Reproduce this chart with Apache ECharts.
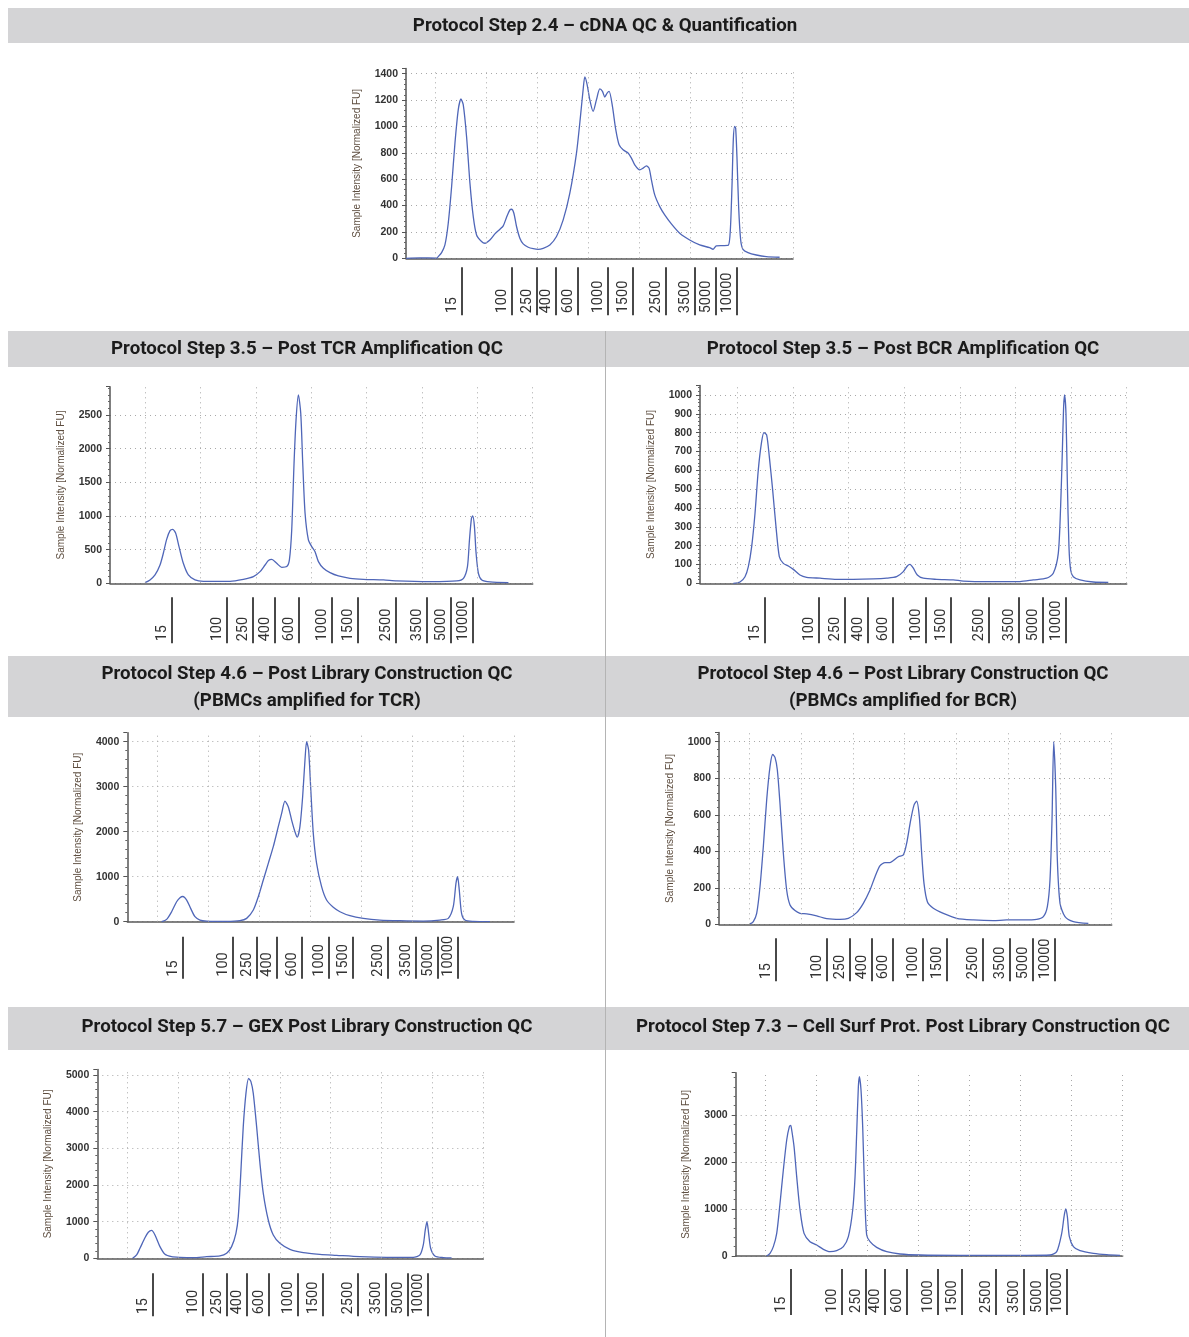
<!DOCTYPE html>
<html>
<head>
<meta charset="utf-8">
<title>10x QC electropherograms</title>
<script src="https://cdn.jsdelivr.net/npm/echarts@6/dist/echarts.min.js"></script>
<style>
  html, body { margin: 0; padding: 0; background: #fff; }
  #main { width: 1189px; height: 1337px; }
</style>
</head>
<body>
<div id="main"></div>
<script>
// ladder sizes (bp) printed under every trace
const ladderSizes = ['15', '100', '250', '400', '600', '1000', '1500', '2500', '3500', '5000', '10000'];
// migration time (s) of the vertical dotted grid
const gridTimes = [20, 30, 40, 50, 60, 70, 80, 90];

// Step 2.4 - cDNA QC
const cdnaTime = [14.34, 17.0, 20.33, 20.65, 21.30, 21.95, 22.60, 23.26, 23.91, 24.56, 25.08, 25.53, 26.18, 26.84, 27.49, 28.14, 29.11, 29.77, 30.74, 31.72, 32.70, 33.35, 34.00, 34.65, 34.97, 35.43, 35.95, 36.60, 37.25, 38.23, 39.21, 40.18, 41.16, 42.46, 43.76, 45.07, 46.37, 47.67, 48.45, 48.97, 49.30, 49.75, 50.27, 50.92, 51.58, 52.23, 52.75, 53.20, 53.66, 54.05, 54.70, 55.35, 56.00, 56.78, 57.76, 58.41, 59.06, 60.04, 60.69, 61.34, 61.86, 62.32, 62.97, 63.95, 64.92, 66.22, 67.85, 69.80, 71.76, 73.71, 74.36, 75.01, 76.32, 77.36, 77.75, 78.07, 78.33, 78.59, 78.79, 79.04, 79.37, 79.77, 80.22, 81.20, 82.83, 84.78, 87.38];
const cdnaFU = [0, 3, 2, 13, 43, 101, 266, 544, 873, 1127, 1208, 1165, 924, 570, 316, 177, 127, 114, 139, 185, 220, 246, 311, 367, 372, 342, 241, 152, 109, 84, 73, 68, 76, 101, 165, 291, 494, 798, 1076, 1279, 1375, 1317, 1203, 1114, 1203, 1284, 1266, 1223, 1253, 1266, 1152, 975, 861, 823, 798, 760, 709, 671, 684, 701, 684, 595, 481, 392, 329, 261, 190, 139, 101, 81, 68, 94, 96, 99, 215, 544, 899, 1000, 987, 772, 392, 139, 68, 43, 25, 13, 8];
const cdnaLadder = [25.2, 35.1, 39.9, 43.6, 48.0, 53.9, 58.7, 65.2, 70.8, 75.0, 79.0];

// Step 3.5 - TCR amplification
const tcrAmpTime = [20.00, 20.90, 21.81, 22.71, 23.31, 23.91, 24.52, 25.00, 25.54, 26.14, 26.92, 27.83, 29.03, 30.54, 32.94, 35.35, 37.76, 39.57, 40.77, 41.67, 42.28, 42.88, 43.78, 44.68, 45.59, 46.07, 46.49, 46.91, 47.27, 47.69, 48.12, 48.48, 48.90, 49.50, 50.10, 50.70, 51.31, 52.21, 53.41, 54.92, 57.03, 59.43, 63.05, 65.45, 71.48, 76.29, 77.50, 78.22, 78.58, 78.94, 79.18, 79.48, 79.78, 80.20, 80.81, 82.31, 85.62];
const tcrAmpFU = [10, 50, 124, 272, 446, 653, 782, 800, 743, 545, 297, 124, 50, 30, 30, 30, 59, 99, 173, 272, 337, 355, 297, 238, 248, 347, 792, 1782, 2426, 2800, 2525, 1782, 1040, 644, 545, 470, 322, 223, 158, 109, 74, 59, 50, 35, 25, 35, 74, 248, 644, 965, 1000, 842, 446, 149, 50, 20, 10];
const tcrAmpLadder = [24.82, 34.75, 39.45, 43.48, 47.87, 53.71, 58.53, 65.33, 70.87, 75.21, 79.30];

// Step 3.5 - BCR amplification
const bcrAmpTime = [19.28, 20.48, 21.38, 21.98, 22.58, 23.18, 23.77, 24.37, 24.79, 25.27, 25.75, 26.35, 26.95, 27.55, 28.27, 29.17, 30.07, 31.26, 32.46, 34.86, 37.86, 40.85, 44.45, 46.84, 48.64, 49.84, 50.56, 51.04, 51.64, 52.36, 53.43, 55.83, 58.83, 60.62, 64.82, 70.81, 73.21, 75.60, 76.80, 77.70, 78.12, 78.42, 78.66, 78.84, 79.08, 79.32, 79.62, 79.92, 80.40, 81.60, 83.99, 86.69];
const bcrAmpFU = [0, 7, 35, 88, 195, 372, 602, 752, 800, 788, 673, 496, 301, 142, 106, 92, 74, 44, 32, 27, 21, 21, 23, 27, 35, 62, 92, 100, 80, 44, 27, 21, 18, 12, 9, 9, 18, 27, 53, 159, 407, 690, 938, 1000, 903, 549, 195, 71, 35, 18, 7, 5];
const bcrAmpLadder = [24.97, 34.74, 39.35, 43.55, 48.04, 53.91, 58.41, 65.30, 70.69, 75.00, 79.08];

// Step 4.6 - library, PBMCs amplified for TCR
const tcrLibTime = [20.85, 21.83, 22.81, 23.79, 24.45, 25.00, 25.76, 26.54, 27.39, 28.37, 29.68, 33.60, 36.22, 37.53, 38.84, 39.82, 40.80, 41.78, 42.76, 43.74, 44.40, 45.05, 45.70, 46.36, 47.01, 47.47, 47.99, 48.52, 48.98, 49.30, 49.69, 50.09, 50.61, 51.26, 52.24, 53.22, 54.53, 55.84, 57.80, 60.42, 63.69, 67.61, 72.19, 75.46, 77.10, 78.08, 78.61, 78.93, 79.26, 79.71, 80.37, 82.00, 85.27];
const tcrLibFU = [0, 52, 222, 444, 533, 560, 481, 296, 111, 37, 15, 7, 22, 74, 259, 556, 926, 1296, 1667, 2111, 2407, 2680, 2555, 2259, 2000, 1880, 2111, 2778, 3592, 4000, 3815, 3000, 1963, 1296, 778, 481, 319, 222, 133, 74, 37, 22, 15, 37, 74, 333, 852, 1000, 704, 185, 37, 7, 0];
const tcrLibLadder = [24.97, 34.78, 39.62, 43.41, 48.32, 53.75, 58.46, 65.32, 70.75, 75.13, 79.06];

// Step 4.6 - library, PBMCs amplified for BCR
const bcrLibTime = [20.13, 20.77, 21.42, 22.06, 22.70, 23.35, 23.99, 24.51, 24.96, 25.41, 25.92, 26.57, 27.21, 27.86, 28.82, 29.79, 31.08, 33.01, 34.94, 37.51, 39.12, 40.73, 42.02, 43.31, 44.28, 45.25, 46.21, 47.17, 47.82, 48.78, 49.75, 50.39, 51.17, 51.81, 52.32, 52.84, 53.29, 53.74, 54.39, 55.54, 57.48, 60.05, 63.27, 67.13, 69.71, 72.93, 75.51, 76.80, 77.57, 78.08, 78.47, 78.80, 79.18, 79.50, 80.02, 80.98, 82.59, 85.49];
const bcrLibFU = [2, 15, 60, 206, 425, 681, 863, 930, 914, 845, 662, 389, 188, 106, 75, 60, 57, 46, 31, 27, 33, 64, 115, 188, 261, 321, 338, 338, 349, 370, 380, 443, 571, 653, 675, 589, 389, 224, 124, 88, 60, 33, 24, 20, 24, 24, 27, 42, 97, 243, 571, 1000, 755, 352, 115, 42, 15, 5];
const bcrLibLadder = [25.15, 34.94, 39.45, 43.76, 47.69, 53.61, 58.12, 65.20, 70.35, 74.86, 79.05];

// Step 5.7 - GEX library
const gexLibTime = [21.05, 21.83, 22.49, 23.47, 24.13, 24.78, 25.44, 26.42, 27.41, 28.72, 30.35, 32.98, 35.60, 38.22, 39.53, 40.51, 41.36, 41.82, 42.28, 42.80, 43.33, 43.85, 44.31, 44.77, 45.43, 46.08, 46.74, 47.72, 48.70, 50.01, 51.98, 54.60, 57.88, 61.15, 65.74, 70.98, 76.23, 77.54, 78.20, 78.59, 78.92, 79.25, 79.65, 80.48, 82.12, 83.76];
const gexLibFU = [0, 91, 273, 560, 710, 760, 636, 318, 109, 45, 27, 18, 45, 64, 136, 318, 682, 1136, 2227, 3591, 4500, 4909, 4818, 4500, 3591, 2591, 1773, 1045, 636, 409, 245, 155, 109, 82, 45, 27, 27, 91, 364, 773, 1000, 682, 273, 64, 18, 9];
const gexLibLadder = [24.98, 34.81, 39.66, 43.46, 47.92, 53.62, 58.53, 65.41, 70.85, 75.24, 79.17];

// Step 7.3 - cell surface protein library
const csLibTime = [20.20, 20.85, 21.50, 22.16, 22.81, 23.46, 24.12, 24.64, 24.90, 25.10, 25.56, 26.08, 26.73, 27.52, 28.69, 30.00, 31.31, 32.61, 33.92, 35.23, 36.21, 37.06, 37.52, 37.84, 38.17, 38.37, 38.69, 39.02, 39.41, 39.80, 40.46, 41.76, 43.73, 46.34, 50.26, 58.10, 64.64, 71.18, 75.75, 77.06, 78.04, 78.50, 78.82, 79.15, 79.54, 80.33, 81.63, 84.25, 86.86, 89.48];
const csLibFU = [0, 57, 199, 482, 1121, 1830, 2468, 2752, 2780, 2681, 2326, 1688, 979, 482, 305, 234, 142, 92, 113, 199, 411, 979, 1688, 2610, 3603, 3815, 3532, 2752, 1333, 447, 305, 184, 92, 43, 21, 14, 14, 14, 21, 92, 482, 837, 1000, 837, 411, 199, 113, 57, 28, 14];
const csLibLadder = [24.97, 34.90, 39.67, 43.40, 47.78, 53.86, 58.43, 65.16, 70.65, 75.10, 79.02];

// panel layout (pixels) + axis ranges
const panels = [
  { time: cdnaTime, fu: cdnaFU, ladder: cdnaLadder, left: 406, top: 68.4, width: 387, height: 189.9, xMin: 14.34, yMax: 1440, yStep: 200, tickTop: 9, tickBottom: 57 },
  { time: tcrAmpTime, fu: tcrAmpFU, ladder: tcrAmpLadder, left: 110, top: 386.7, width: 422.7, height: 196.6, xMin: 13.68, yMax: 2920, yStep: 500, tickTop: 14, tickBottom: 60 },
  { time: bcrAmpTime, fu: bcrAmpFU, ladder: bcrAmpLadder, left: 700, top: 385.6, width: 426.7, height: 197.7, xMin: 13.29, yMax: 1050, yStep: 100, tickTop: 14, tickBottom: 60 },
  { time: tcrLibTime, fu: tcrLibFU, ladder: tcrLibLadder, left: 127.3, top: 732.7, width: 386.7, height: 189, xMin: 14.11, yMax: 4200, yStep: 1000, tickTop: 15, tickBottom: 57 },
  { time: bcrLibTime, fu: bcrLibFU, ladder: bcrLibLadder, left: 719, top: 732.6, width: 392.7, height: 191.7, xMin: 14.14, yMax: 1050, yStep: 200, tickTop: 14, tickBottom: 57 },
  { time: gexLibTime, fu: gexLibFU, ladder: gexLibLadder, left: 97.3, top: 1069.5, width: 386, height: 188.8, xMin: 14.10, yMax: 5150, yStep: 1000, tickTop: 15, tickBottom: 58 },
  { time: csLibTime, fu: csLibFU, ladder: csLibLadder, left: 735.7, top: 1072.7, width: 387, height: 183.3, xMin: 14.12, yMax: 3900, yStep: 1000, tickTop: 13, tickBottom: 59 }
];

const headerFill = '#d4d4d6';
const titleFont = { fontFamily: 'Roboto', fontWeight: 'bold', fontSize: 18.7, fill: '#1b1b1b' };
const dotted = { color: '#a8a8a8', type: [1, 4], width: 1 };

function title(text, x, y) {
  return { type: 'text', x: x, y: y, z: 10, style: Object.assign({ text: text, align: 'center', verticalAlign: 'middle' }, titleFont) };
}

const graphic = [
  { type: 'rect', shape: { x: 8, y: 8, width: 1181, height: 35 }, style: { fill: headerFill } },
  { type: 'rect', shape: { x: 8, y: 331, width: 1181, height: 36 }, style: { fill: headerFill } },
  { type: 'rect', shape: { x: 8, y: 656, width: 1181, height: 61 }, style: { fill: headerFill } },
  { type: 'rect', shape: { x: 8, y: 1007, width: 1181, height: 43 }, style: { fill: headerFill } },
  { type: 'line', z: 5, shape: { x1: 605.5, y1: 331, x2: 605.5, y2: 1337 }, style: { stroke: '#b4b4b4', lineWidth: 1 } },
  title('Protocol Step 2.4 \u2013 cDNA QC & Quantification', 605, 26),
  title('Protocol Step 3.5 \u2013 Post TCR Amplification QC', 307, 349.5),
  title('Protocol Step 3.5 \u2013 Post BCR Amplification QC', 903, 349.5),
  title('Protocol Step 4.6 \u2013 Post Library Construction QC', 307, 674.5),
  title('(PBMCs amplified for TCR)', 307, 701.5),
  title('Protocol Step 4.6 \u2013 Post Library Construction QC', 903, 674.5),
  title('(PBMCs amplified for BCR)', 903, 701.5),
  title('Protocol Step 5.7 \u2013 GEX Post Library Construction QC', 307, 1027.5),
  title('Protocol Step 7.3 \u2013 Cell Surf Prot. Post Library Construction QC', 903, 1027.5)
];

const grid = [], xAxis = [], yAxis = [], series = [];
panels.forEach(function (p, i) {
  grid.push({ left: p.left, top: p.top, width: p.width, height: p.height });
  xAxis.push({
    gridIndex: i, type: 'value', min: p.xMin, max: 90,
    axisLine: { show: true, onZero: false, lineStyle: { color: '#5a5a5a', width: 1.5 } },
    axisTick: { show: false }, axisLabel: { show: false }, splitLine: { show: false }
  });
  yAxis.push({
    gridIndex: i, type: 'value', min: 0, max: p.yMax, interval: p.yStep,
    name: 'Sample Intensity [Normalized FU]', nameLocation: 'middle', nameGap: 44,
    nameTextStyle: { color: '#5e4e40', fontSize: 10, fontFamily: 'Liberation Sans' },
    axisLine: { show: true, lineStyle: { color: '#555', width: 1.5 } },
    axisTick: { show: true, length: 4, lineStyle: { color: '#555' } },
    minorTick: { show: true, splitNumber: 5, length: 2, lineStyle: { color: '#666' } },
    axisLabel: {
      color: '#333', fontSize: 10.5, fontWeight: 'bold', fontFamily: 'Liberation Sans', margin: 8, showMaxLabel: false,
      formatter: function (v) { return String(v); }
    },
    splitLine: { show: true, showMaxLine: false, lineStyle: dotted }
  });
  series.push({
    type: 'line', xAxisIndex: i, yAxisIndex: i,
    data: p.time.map(function (t, k) { return [t, p.fu[k]]; }),
    showSymbol: false, smooth: 0.25,
    lineStyle: { color: '#4f66b8', width: 1.3 },
    markLine: {
      silent: true, symbol: ['none', 'none'], label: { show: false },
      lineStyle: dotted, animation: false,
      data: gridTimes.map(function (t) { return { xAxis: t }; })
    }
  });
  series.push({
    type: 'custom', xAxisIndex: i, yAxisIndex: i, clip: false, silent: true,
    data: p.ladder.map(function (t, k) { return [t, 0, k]; }),
    encode: { x: 0, y: 1 },
    renderItem: function (params, api) {
      const pt = api.coord([api.value(0), 0]);
      const x = Math.round(pt[0]);
      const y0 = pt[1];
      return {
        type: 'group',
        children: [
          { type: 'line', shape: { x1: x, y1: y0 + p.tickTop, x2: x, y2: y0 + p.tickBottom }, style: { stroke: '#484848', lineWidth: 2 } },
          {
            type: 'text', x: x - 2, y: y0 + p.tickBottom - 2, rotation: Math.PI / 2,
            style: { text: ladderSizes[api.value(2)], fontSize: 14.5, fontFamily: 'Roboto', fill: '#333', align: 'left', verticalAlign: 'bottom' }
          }
        ]
      };
    }
  });
});

const chart = echarts.init(document.getElementById('main'), null, { renderer: 'canvas' });
chart.setOption({
  animation: false,
  backgroundColor: '#fff',
  graphic: graphic,
  grid: grid,
  xAxis: xAxis,
  yAxis: yAxis,
  series: series
});
</script>
</body>
</html>
